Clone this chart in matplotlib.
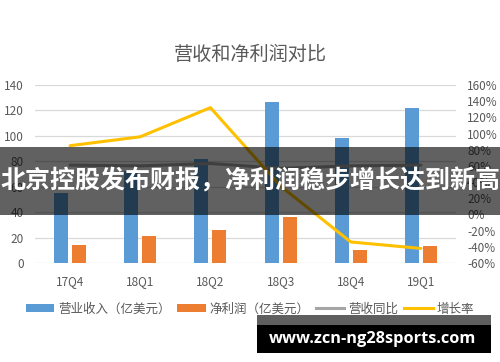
import matplotlib
matplotlib.use('Agg')
import matplotlib.pyplot as plt
from matplotlib.patches import Rectangle, Patch
from matplotlib.lines import Line2D
from matplotlib.ticker import FuncFormatter, MultipleLocator
import numpy as np

plt.rcParams['font.family'] = ['Noto Sans CJK SC', 'DejaVu Sans']

categories = ['17Q4', '18Q1', '18Q2', '18Q3', '18Q4', '19Q1']
revenue = [55, 72, 82, 127, 98, 122]          # 营业收入（亿美元）
net_profit = [14, 21, 26, 36, 10, 13]         # 净利润（亿美元）
revenue_yoy = [61, 60, 63, 57, 60, 61]        # 营收同比 (%)
growth_rate = [85, 96, 132, 35, -34, -42]     # 增长率 (%)

title = '营收和净利润对比'
legend_labels = ['营业收入（亿美元）', '净利润（亿美元）', '营收同比', '增长率']
banner = '北京控股发布财报，净利润稳步增长达到新高'
watermark = 'www.zcn-ng28sports.com'

c_blue = '#5B9BD5'
c_orange = '#ED7D31'
c_gray = '#A5A5A5'
c_yellow = '#FFC000'
c_text = '#595959'

W, H = 500, 362
fig = plt.figure(figsize=(W / 100, H / 100), dpi=100)
fig.patch.set_facecolor('white')

ax = fig.add_axes([35 / W, 1 - 263 / H, (456 - 35) / W, (263 - 85) / H])
x = np.arange(len(categories))
bw = 0.2
off = 0.128
ax.bar(x - off, revenue, bw, color=c_blue, zorder=2)
ax.bar(x + off, net_profit, bw, color=c_orange, zorder=2)
ax.set_xlim(-0.5, len(categories) - 0.5)
ax.set_ylim(0, 140)
ax.yaxis.set_major_locator(MultipleLocator(20))
ax.grid(axis='y', color='#D9D9D9', linewidth=0.9, zorder=0)
ax.set_axisbelow(True)
for s in ax.spines.values():
    s.set_visible(False)
ax.set_xticks(x)
ax.set_xticklabels(categories)
ax.tick_params(axis='both', length=0, labelsize=8.5, colors=c_text)
ax.tick_params(axis='y', pad=8)
ax.tick_params(axis='x', pad=9)

ax2 = ax.twinx()
ax2.plot(x, revenue_yoy, color=c_gray, linewidth=2.2, solid_capstyle='round', zorder=3)
ax2.plot(x, growth_rate, color=c_yellow, linewidth=2.2, solid_capstyle='round', zorder=3)
ax2.set_ylim(-60, 160)
ax2.yaxis.set_major_locator(MultipleLocator(20))
ax2.yaxis.set_major_formatter(FuncFormatter(lambda v, p: f'{v:.0f}%'))
for s in ax2.spines.values():
    s.set_visible(False)
ax2.tick_params(axis='y', length=0, labelsize=8.5, colors=c_text, pad=8)

fig.text(0.5, 1 - 54 / H, title, ha='center', va='center', fontsize=13.8, color=c_text)

handles = [Patch(facecolor=c_blue), Patch(facecolor=c_orange),
           Line2D([0], [0], color=c_gray, linewidth=2.2),
           Line2D([0], [0], color=c_yellow, linewidth=2.2)]
leg = fig.legend(handles, legend_labels, loc='center', bbox_to_anchor=(250 / W, 1 - 309 / H),
                 ncol=4, frameon=False, fontsize=9, handlelength=2.3, handleheight=0.55,
                 handletextpad=0.3, columnspacing=0.5, labelcolor=c_text)

# overlay banner
fig.patches.append(Rectangle((0, 1 - 215 / H), 1, (215 - 147) / H, transform=fig.transFigure,
                             facecolor='black', alpha=0.62, edgecolor='none', zorder=10))
fig.text(0.5, 1 - 181 / H, banner, ha='center', va='center', fontsize=18, color='white',
         fontweight='bold', zorder=11)

# watermark
fig.patches.append(Rectangle((257 / W, 1 - 325 / H), (491 - 257) / W, (325 - 315) / H,
                             transform=fig.transFigure, facecolor='#5f5f5f', edgecolor='none', zorder=10))
fig.patches.append(Rectangle((257 / W, 1 - 353 / H), (491 - 257) / W, (353 - 325) / H,
                             transform=fig.transFigure, facecolor='black', edgecolor='none', zorder=10))
fig.text(373 / W, 1 - 339 / H, watermark, ha='center', va='center', fontsize=11.8, color='white',
         fontweight='bold', family=['Open Sans', 'DejaVu Sans'], zorder=11)

fig.savefig('out.png', dpi=100)
